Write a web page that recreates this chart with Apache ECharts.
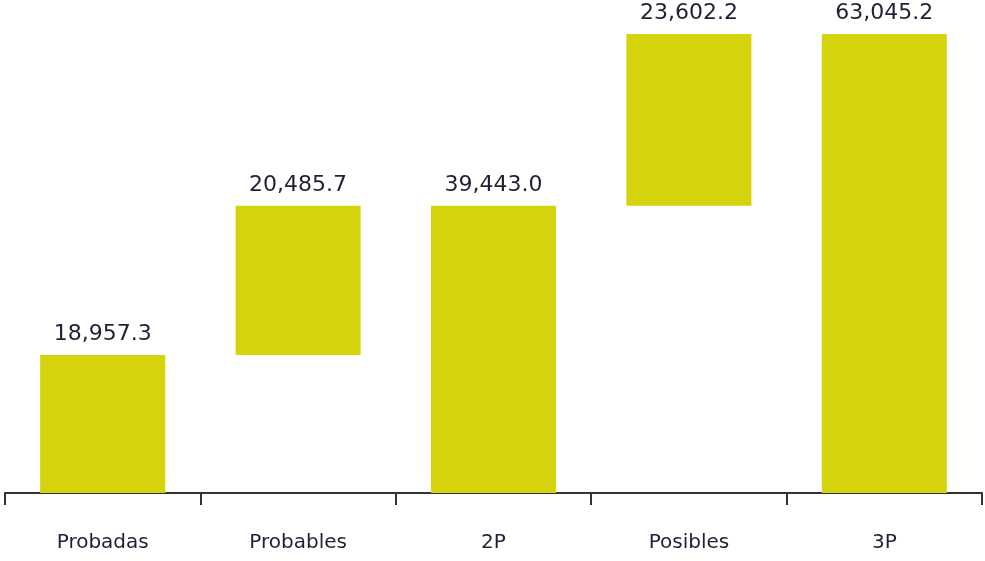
<!DOCTYPE html>
<html>
<head>
<meta charset="utf-8">
<script src="https://cdn.jsdelivr.net/npm/echarts@6/dist/echarts.min.js"></script>
<style>
  html, body { margin: 0; padding: 0; background: #fff; }
  #chart { width: 985px; height: 561px; }
</style>
</head>
<body>
<div id="chart"></div>
<script>
// categorías y valores (waterfall)
var categories = ['Probadas', 'Probables', '2P', 'Posibles', '3P'];
var values = [18957.3, 20485.7, 39443.0, 23602.2, 63045.2];
var bases = [0, 18957.3, 0, 39443.0, 0];

var fmt = function (v) {
    return v.toLocaleString('en-US', { minimumFractionDigits: 1, maximumFractionDigits: 1 });
};

var chart = echarts.init(document.getElementById('chart'));
chart.setOption({
    animation: false,
    textStyle: { fontFamily: 'DejaVu Sans' },
    grid: { left: 5, right: 3, top: 34, bottom: 68 },
    xAxis: {
        type: 'category',
        data: categories,
        axisLine: { lineStyle: { color: '#333', width: 2 } },
        axisTick: { show: true, length: 12, lineStyle: { color: '#333', width: 2 } },
        axisLabel: { color: '#1f2235', fontSize: 20, margin: 40 }
    },
    yAxis: {
        type: 'value',
        min: 0,
        max: 63045.2,
        show: false,
        splitLine: { show: false }
    },
    series: [
        {
            type: 'bar',
            stack: 'w',
            data: bases,
            itemStyle: { color: 'transparent' },
            silent: true,
            barWidth: '64%'
        },
        {
            type: 'bar',
            stack: 'w',
            data: values,
            barWidth: '64%',
            itemStyle: { color: '#d5d30c' },
            label: {
                show: true,
                position: 'top',
                distance: 10,
                color: '#1f2235',
                fontSize: 22,
                formatter: function (p) { return fmt(p.value); }
            }
        }
    ]
});
window.addEventListener('resize', function () { chart.resize(); });
</script>
</body>
</html>
